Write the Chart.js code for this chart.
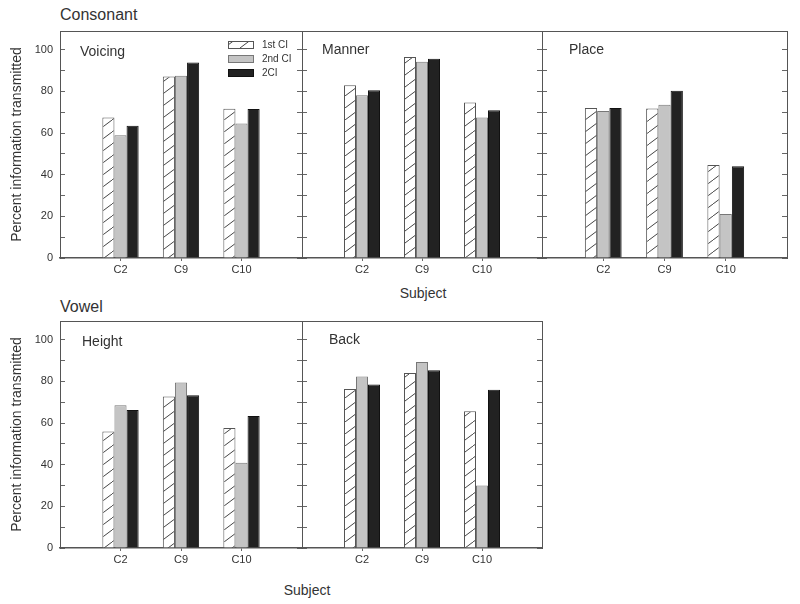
<!DOCTYPE html>
<html lang="en">
<head>
<meta charset="UTF-8">
<title>Percent information transmitted</title>
<script src="https://cdn.jsdelivr.net/npm/chart.js"></script>
<style>
  body { margin: 0; background: #fff; font-family: "Liberation Sans", Arial, sans-serif; color: #333; }
  #wrap { position: relative; width: 800px; height: 604px; overflow: hidden; }
  canvas { position: absolute; }
  .txt { position: absolute; white-space: nowrap; line-height: 1; }
</style>
</head>
<body>
<div id="wrap">
  <div class="txt" style="left:60px; top:7px; font-size:16px;">Consonant</div>
  <div class="txt" style="left:60px; top:299px; font-size:16px;">Vowel</div>
  <div class="txt" style="left:423px; top:286px; font-size:14px; transform:translateX(-50%);">Subject</div>
  <div class="txt" style="left:307px; top:583px; font-size:14px; transform:translateX(-50%);">Subject</div>

  <canvas id="voicing" width="310" height="273" style="left:0; top:12px;"></canvas>
  <canvas id="manner" width="253" height="273" style="left:297px; top:12px;"></canvas>
  <canvas id="place" width="258" height="273" style="left:537px; top:12px;"></canvas>
  <canvas id="height" width="310" height="273" style="left:0; top:302px;"></canvas>
  <canvas id="back" width="253" height="273" style="left:297px; top:302px;"></canvas>
</div>

<script>
  // categories and series
  const subjects = ['C2', 'C9', 'C10'];
  const seriesNames = ['1st CI', '2nd CI', '2CI'];

  // values (percent information transmitted)
  const voicing1 = [67.5, 87.2, 71.7];
  const voicing2 = [58.9, 87.5, 64.6];
  const voicing3 = [63.5, 93.9, 71.5];

  const manner1 = [83.0, 96.5, 74.7];
  const manner2 = [78.2, 94.2, 67.5];
  const manner3 = [80.5, 95.7, 70.9];

  const place1 = [72.0, 71.8, 44.6];
  const place2 = [70.6, 73.6, 21.1];
  const place3 = [72.0, 80.3, 44.0];

  const height1 = [56.0, 72.7, 57.6];
  const height2 = [68.5, 79.5, 40.9];
  const height3 = [66.3, 73.4, 63.4];

  const back1 = [76.3, 84.0, 65.7];
  const back2 = [82.4, 89.3, 30.0];
  const back3 = [78.5, 85.3, 76.0];

  // y axis
  const yMin = 0;
  const yMax = 109;
  const yStep = 10;
  const yLabelStep = 20;
  const yTitle = 'Percent information transmitted';

  const FONT = '"Liberation Sans", Arial, sans-serif';
  const LINE = '#555';

  // diagonal hatch for "1st CI"
  function makeHatch() {
    const w = 16, h = 12;
    const c = document.createElement('canvas');
    c.width = w; c.height = h;
    const g = c.getContext('2d');
    g.fillStyle = '#fff';
    g.fillRect(0, 0, w, h);
    g.strokeStyle = '#444';
    g.lineWidth = 1;
    g.beginPath();
    for (const dx of [-w, 0, w]) {
      g.moveTo(dx, h);
      g.lineTo(dx + w, 0);
    }
    g.stroke();
    return g.createPattern(c, 'repeat');
  }
  const hatch = makeHatch();

  const fills = [hatch, '#c4c4c4', '#222'];
  const borders = ['#555', '#777', '#111'];

  // padded so the three subjects sit at 1/4, 2/4, 3/4 of the panel width
  const xLabels = ['', ...subjects, ''];
  const pad = arr => [null, ...arr, null];

  // frame top, panel name and (optionally) the legend inside the panel
  const decor = {
    id: 'decor',
    afterDraw(chart, args, o) {
      const { ctx, chartArea: a } = chart;
      ctx.save();
      ctx.strokeStyle = LINE;
      ctx.lineWidth = 1;
      ctx.beginPath();
      ctx.moveTo(a.left, Math.round(a.top) + 0.5);
      ctx.lineTo(a.right, Math.round(a.top) + 0.5);
      ctx.stroke();

      ctx.fillStyle = '#333';
      ctx.textBaseline = 'middle';
      ctx.font = '14px ' + FONT;
      ctx.fillText(o.text, a.left + o.dx, a.top + o.dy);

      if (o.legend) {
        ctx.font = '10px ' + FONT;
        chart.data.datasets.forEach((ds, i) => {
          const x = a.left + 168, y = a.top + 10 + i * 14;
          ctx.fillStyle = ds.backgroundColor;
          ctx.fillRect(x, y, 25, 7);
          ctx.strokeStyle = ds.borderColor;
          ctx.strokeRect(x + 0.5, y + 0.5, 25, 7);
          ctx.fillStyle = '#333';
          ctx.fillText(ds.label, x + 34, y + 4);
        });
      }
      ctx.restore();
    }
  };

  function panel(id, s1, s2, s3, o) {
    const values = [s1, s2, s3];
    new Chart(document.getElementById(id), {
      type: 'bar',
      data: {
        labels: xLabels,
        datasets: seriesNames.map((name, i) => ({
          label: name,
          data: pad(values[i]),
          backgroundColor: fills[i],
          borderColor: borders[i],
          borderWidth: 1,
          categoryPercentage: 0.6,
          barPercentage: 1.0
        }))
      },
      options: {
        responsive: false,
        animation: false,
        events: [],
        layout: { padding: { left: o.padLeft, right: 8, top: 19, bottom: 0 } },
        plugins: {
          legend: { display: false },
          tooltip: { enabled: false },
          decor: { text: o.text, dx: o.dx, dy: o.dy, legend: !!o.legend }
        },
        scales: {
          x: {
            type: 'category',
            offset: false,
            afterFit: s => { s.height = 27; },
            grid: {
              offset: false,
              drawOnChartArea: false,
              tickLength: 3,
              color: c => (c.tick && c.tick.label) ? '#666' : 'rgba(0,0,0,0)'
            },
            border: { color: LINE, width: 1.5 },
            ticks: { autoSkip: false, maxRotation: 0, padding: 2, color: '#333', font: { family: FONT, size: 11 } }
          },
          y: {
            min: yMin,
            max: yMax,
            afterFit: s => { s.width = o.showY ? 60 : 0; },
            grid: { drawOnChartArea: false, tickLength: -5, color: '#666' },
            border: { color: LINE, width: 1 },
            ticks: {
              display: !!o.showY,
              stepSize: yStep,
              includeBounds: false,
              autoSkip: false,
              padding: 12,
              color: '#333',
              font: { family: FONT, size: 11 },
              callback: v => (v % yLabelStep === 0 ? v : '')
            },
            title: {
              display: !!o.showY,
              text: yTitle,
              color: '#333',
              font: { family: FONT, size: 14 },
              padding: { top: 9, bottom: 0 }
            }
          },
          y2: {
            position: 'right',
            min: yMin,
            max: yMax,
            afterFit: s => { s.width = 0; },
            grid: { drawOnChartArea: false, tickLength: -5, color: '#666' },
            border: { color: LINE, width: 1 },
            ticks: { display: false, stepSize: yStep, includeBounds: false }
          }
        }
      },
      plugins: [decor]
    });
  }

  panel('voicing', voicing1, voicing2, voicing3, { text: 'Voicing', dx: 20, dy: 21, showY: true, padLeft: 0, legend: true });
  panel('manner', manner1, manner2, manner3, { text: 'Manner', dx: 20, dy: 19, showY: false, padLeft: 5 });
  panel('place', place1, place2, place3, { text: 'Place', dx: 27, dy: 19, showY: false, padLeft: 5 });
  panel('height', height1, height2, height3, { text: 'Height', dx: 22, dy: 21, showY: true, padLeft: 0 });
  panel('back', back1, back2, back3, { text: 'Back', dx: 27, dy: 19, showY: false, padLeft: 5 });
</script>
</body>
</html>
